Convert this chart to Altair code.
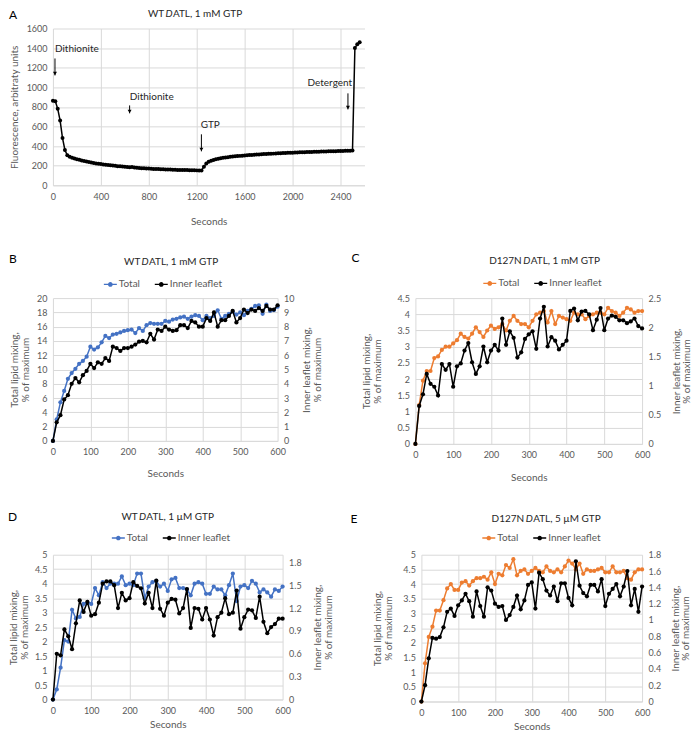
import altair as alt
import pandas as pd

FONT = "Lato"
GRAY = "#595959"
GRID = "#D9D9D9"
BLUE = "#4472C4"
ORANGE = "#ED7D31"
BLACK = "#000000"
TXT = "#262626"

# ---------------- Panel A data ----------------
A_fluor = [862, 858, 780, 660, 482, 360, 306, 291, 282, 273, 266, 260, 254, 247, 243, 238,
           233, 228, 223, 220, 216, 213, 210, 207, 205, 201, 198, 195, 193, 191, 189, 187,
           185, 186, 181, 178, 176, 174, 173, 171, 170, 169, 167, 166, 165, 164, 163, 161,
           160, 160, 159, 158, 157, 157, 156, 155, 155, 154, 153, 153, 152, 151, 150, 190,
           222, 240, 251, 259, 265, 271, 276, 280, 283, 287, 290, 293, 296, 298, 300, 302,
           305, 307, 308, 310, 312, 313, 315, 316, 318, 319, 321, 322, 323, 325, 326, 327,
           329, 330, 331, 332, 333, 334, 335, 336, 337, 338, 339, 340, 340, 341, 342, 343,
           344, 344, 345, 346, 347, 348, 348, 349, 350, 351, 352, 352, 353, 354, 1400, 1440, 1460]
A_time = [20 * i for i in range(len(A_fluor))]
A_xticks = [0, 400, 800, 1200, 1600, 2000, 2400]
A_yticks = [0, 200, 400, 600, 800, 1000, 1200, 1400, 1600]

A_ann_label = ["Dithionite", "Dithionite", "GTP", "Detergent"]
A_ann_t = [17, 640, 1239, 2462]
A_ann_top = [1294, 815, 520, 938]
A_ann_tip = [1121, 734, 346, 774]
A_ann_text_t = [17, 642, 1233, 2125]
A_ann_text_y = [1386, 897, 611, 1040]

# ---------------- Panels B-E data ----------------
T10 = list(range(0, 601, 10))
X600 = [0, 100, 200, 300, 400, 500, 600]

B_total = [0, 3.0, 5.4, 7.0, 8.7, 9.5, 10.1, 10.8, 11.2, 11.8, 13.2, 12.8, 13.1, 13.8, 14.7, 14.4,
           14.9, 15.0, 15.2, 15.4, 15.5, 15.6, 15.1, 15.8, 15.4, 16.2, 16.5, 16.4, 16.4, 16.4, 16.8,
           16.7, 17.0, 17.1, 17.3, 17.4, 17.1, 17.4, 17.6, 17.5, 16.9, 17.5, 17.2, 17.5, 18.3, 17.1,
           17.5, 17.8, 18.1, 17.7, 18.0, 17.6, 18.2, 18.5, 18.9, 19.0, 17.8, 19.1, 18.2, 18.3, 18.8]
B_inner = [0, 1.3, 1.8, 2.9, 3.2, 4.0, 4.4, 4.1, 4.6, 4.9, 5.4, 5.1, 5.5, 5.4, 5.8, 5.6,
           6.6, 6.5, 6.3, 6.5, 6.5, 6.6, 6.75, 6.95, 7.0, 6.9, 7.5, 7.1, 7.8, 7.7, 8.0,
           7.8, 7.7, 7.75, 8.1, 8.1, 7.9, 8.4, 8.3, 8.0, 8.0, 8.6, 8.4, 9.0, 8.0, 8.45,
           8.45, 8.75, 9.1, 8.3, 8.6, 9.2, 8.95, 9.2, 9.1, 9.3, 9.1, 9.45, 9.2, 9.2, 9.5]

C_total = [0, 1.2, 1.95, 2.25, 2.25, 2.65, 2.7, 2.9, 3.0, 3.0, 3.1, 3.2, 3.4, 3.3, 3.25, 3.4,
           3.6, 3.45, 3.3, 3.5, 3.65, 3.55, 3.6, 3.7, 3.5, 3.8, 3.95, 3.8, 3.7, 3.7, 3.6,
           3.8, 4.0, 4.05, 4.1, 3.75, 4.1, 3.7, 3.95, 3.9, 3.85, 3.8, 4.05, 4.0, 4.0, 3.85,
           3.95, 4.0, 4.05, 4.05, 4.0, 4.2, 4.1, 4.05, 3.95, 4.05, 4.2, 4.15, 4.05, 4.1, 4.1]
C_inner = [0, 0.65, 0.85, 1.2, 1.03, 0.98, 0.83, 1.37, 1.27, 1.37, 0.98, 1.33, 1.38, 1.6, 1.73, 1.4,
           1.2, 1.33, 1.67, 1.4, 1.6, 1.7, 1.6, 2.15, 1.7, 1.93, 1.82, 1.48, 1.57, 1.8, 1.88,
           1.93, 1.63, 2.15, 2.35, 1.67, 1.83, 1.77, 1.62, 1.7, 1.77, 2.28, 2.32, 2.12, 2.27, 2.28,
           2.22, 1.95, 2.13, 2.33, 1.95, 2.15, 2.2, 2.18, 2.12, 2.12, 2.07, 2.1, 2.15, 2.02, 1.98]

D_total = [0, 0.35, 1.1, 2.05, 2.0, 3.1, 2.8, 2.85, 3.3, 3.35, 3.3, 3.85, 3.6, 4.05, 3.85, 4.0,
           4.0, 4.0, 4.25, 3.95, 4.0, 3.95, 4.35, 4.35, 3.5, 3.9, 4.05, 4.1, 3.9, 4.0, 3.75,
           4.15, 4.2, 3.85, 3.85, 3.8, 3.6, 4.0, 4.05, 4.0, 3.65, 3.65, 3.9, 3.8, 3.8, 3.6,
           3.95, 4.35, 3.4, 3.9, 3.95, 3.85, 4.1, 4.0, 3.7, 3.8, 3.7, 3.55, 3.8, 3.75, 3.9]
D_inner = [0, 0.6, 0.58, 0.92, 0.83, 0.66, 1.0, 1.3, 1.15, 1.28, 1.1, 1.12, 1.27, 1.52, 1.55, 1.55,
           1.5, 1.2, 1.4, 1.3, 1.33, 1.54, 1.49, 1.46, 1.26, 1.4, 1.2, 1.56, 1.19, 1.1, 1.27,
           1.32, 1.31, 1.13, 1.2, 1.45, 0.94, 1.2, 1.19, 1.05, 1.2, 1.05, 0.84, 1.08, 1.14, 1.33,
           1.12, 1.14, 1.43, 0.93, 1.08, 1.18, 1.17, 1.07, 1.35, 1.02, 0.87, 0.95, 0.99, 1.06, 1.06]

E_total = [0, 1.3, 2.2, 2.55, 3.1, 3.1, 3.45, 3.85, 4.0, 3.8, 3.8, 4.05, 4.1, 3.95, 4.1, 4.2,
           4.2, 4.25, 4.15, 4.4, 4.0, 4.35, 4.3, 4.65, 4.55, 4.85, 4.3, 4.45, 4.5, 4.35, 4.45,
           4.55, 4.45, 4.4, 4.6, 4.45, 4.4, 4.5, 4.4, 4.6, 4.8, 4.7, 4.5, 4.7, 4.35, 4.5,
           4.45, 4.45, 4.5, 4.55, 4.4, 4.4, 4.6, 4.4, 4.4, 4.45, 4.2, 4.15, 4.4, 4.5, 4.5]
E_inner = [0, 0.2, 0.53, 0.78, 0.77, 0.79, 0.91, 1.1, 1.14, 1.05, 1.18, 1.24, 1.32, 1.23, 1.04, 1.35,
           1.17, 1.04, 1.4, 1.36, 1.2, 1.16, 1.17, 1.0, 1.06, 1.16, 1.3, 1.13, 1.24, 1.43, 1.46,
           1.14, 1.58, 1.5, 1.36, 1.3, 1.41, 1.23, 1.45, 1.45, 1.27, 1.18, 1.72, 1.42, 1.33, 1.29,
           1.43, 1.43, 1.35, 1.5, 1.17, 1.32, 1.38, 1.44, 1.29, 1.41, 1.6, 1.18, 1.38, 1.1, 1.41]

SERIES = ["Total", "Inner leaflet"]

ONE = pd.DataFrame({"k": [0]})

CW = {" ": 0.19, "W": 0.96, "T": 0.6, "D": 0.74, "A": 0.68, "L": 0.51, ",": 0.23, "m": 0.86,
      "M": 0.89, "G": 0.72, "P": 0.62, "N": 0.75, "\u00b5": 0.58}


def tw(s, size=10):
    return sum(CW.get(c, 0.58) for c in s) * size


def frame(x1, x2, y1, y2):
    return alt.Chart(ONE).mark_rect(fill="#ffffff", opacity=0).encode(
        x=alt.value(x1), x2=alt.value(x2), y=alt.value(y1), y2=alt.value(y2))


def text_at(txt, x, y, size=10, align="left", baseline="middle", style="normal", color=TXT):
    return alt.Chart(ONE).mark_text(align=align, baseline=baseline, fontSize=size, font=FONT,
                                    fontStyle=style, color=color).encode(
        x=alt.value(x), y=alt.value(y), text=alt.value(txt))


def title_layers(cx, cy, prefix, suffix, size=10):
    wp, wd, ws = tw(prefix, size), tw("D", size), tw(suffix, size)
    left = cx - (wp + wd + ws) / 2
    return [text_at(prefix, left, cy, size),
            text_at("D", left + wp, cy, size, style="italic"),
            text_at(suffix, left + wp + wd, cy, size)]


# ---------------- Panel A ----------------
def panel_a():
    W, H = 312, 157
    df = pd.DataFrame({"t": A_time, "v": A_fluor})
    ann = pd.DataFrame({"label": A_ann_label, "t": A_ann_t, "v": A_ann_top, "v2": A_ann_tip,
                        "tt": A_ann_text_t, "ty": A_ann_text_y})
    xs = alt.Scale(domain=[0, 2600], nice=False)
    ys = alt.Scale(domain=[0, 1600], nice=False)
    xax = alt.Axis(values=A_xticks, grid=True, domain=True, title="Seconds", titleX=W / 2,
                   titleY=36, titleBaseline="middle", labelPadding=7, format="~r")
    yax = alt.Axis(values=A_yticks, grid=True, domain=False, title="Fluorescence, arbitraty units",
                   titleX=-33, titleY=H / 2, titleAngle=270, titleAlign="center",
                   titleBaseline="bottom", labelPadding=6, format="~r")
    x = alt.X("t:Q", scale=xs, axis=xax)
    y = alt.Y("v:Q", scale=ys, axis=yax)
    line = alt.Chart(df).mark_line(color=BLACK, strokeWidth=1.5).encode(x=x, y=y)
    pts = alt.Chart(df).mark_circle(color=BLACK, size=16, opacity=1).encode(x=x, y=y)
    rules = alt.Chart(ann).mark_rule(color=BLACK, strokeWidth=1).encode(
        x=x, y=y, y2="v2:Q")
    heads = alt.Chart(ann).mark_point(shape="triangle-down", filled=True, size=16, color=BLACK,
                                      opacity=1, yOffset=-2).encode(
        x=x, y=alt.Y("v2:Q", scale=ys, axis=yax))
    labels = alt.Chart(ann).mark_text(align="left", baseline="middle", fontSize=10, font=FONT,
                                      color=TXT).encode(
        x=alt.X("tt:Q", scale=xs, axis=xax), y=alt.Y("ty:Q", scale=ys, axis=yax), text="label:N")
    layers = [frame(-44, 640, -19, 213), line, pts, rules, heads, labels,
              text_at("A", -44, -19, 12, baseline="top", color=BLACK)]
    layers += title_layers(142, -15, "WT ", "ATL, 1 mM GTP")
    return alt.layer(*layers).properties(width=W, height=H)


LEG_PATH = ("M-1,-0.1L1,-0.1L1,0.1L-1,0.1Z "
            "M-0.36,0A0.36,0.36,0,1,1,0.36,0A0.36,0.36,0,1,1,-0.36,0Z")


def mix_panel(c):
    W, H = c["w"], c["h"]
    dft = pd.DataFrame({"t": T10, "v": c["total"], "series": SERIES[0]})
    dfi = pd.DataFrame({"t": T10, "v": c["inner"], "series": SERIES[1]})
    legend = alt.Legend(orient="none", legendX=c["legx"], legendY=c["legy"], direction="horizontal",
                        title=None, symbolType=LEG_PATH, symbolSize=169, symbolStrokeWidth=0,
                        labelFontSize=10, labelFont=FONT, labelColor=GRAY, columnPadding=14,
                        labelOffset=2, padding=0)
    color = alt.Color("series:N", scale=alt.Scale(domain=SERIES, range=[c["color"], BLACK]),
                      legend=legend)
    x = alt.X("t:Q", scale=alt.Scale(domain=[0, 600], nice=False),
              axis=alt.Axis(values=X600, grid=True, domain=True, title="Seconds", titleX=W / 2,
                            titleY=c["xty"], titleBaseline="middle", labelPadding=7, format="~r"))
    yl = alt.Y("v:Q", scale=alt.Scale(domain=c["ldom"], nice=False),
               axis=alt.Axis(values=c["lvals"], grid=True, domain=False, orient="left",
                             title=["Total lipid mixing,", "% of maximum"], titleX=c["ltx"],
                             titleY=H / 2, titleAngle=270, titleAlign="center",
                             titleBaseline="bottom", titleLineHeight=11, labelPadding=6,
                             format="~r"))
    yr = alt.Y("v:Q", scale=alt.Scale(domain=c["rdom"], nice=False),
               axis=alt.Axis(values=c["rvals"], grid=False, domain=False, orient="right",
                             title=["Inner leaflet mixing,", "% of maximum"], titleX=c["rtx"],
                             titleY=H / 2, titleAngle=270, titleAlign="center",
                             titleBaseline="bottom", titleLineHeight=11, labelPadding=6,
                             format="~r"))
    tp = alt.Chart(dft).mark_circle(size=18, opacity=1).encode(x=x, y=yl, color=color)
    tl = alt.Chart(dft).mark_line(strokeWidth=1.5).encode(x=x, y=yl, color=color)
    ip = alt.Chart(dfi).mark_circle(size=18, opacity=1).encode(x=x, y=yr, color=color)
    il = alt.Chart(dfi).mark_line(strokeWidth=1.5).encode(x=x, y=yr, color=color)
    left = alt.layer(tp, tl)
    right = alt.layer(ip, il)
    fx1, fx2, fy1, fy2 = c["frame"]
    layers = [frame(fx1, fx2, fy1, fy2), left, right,
              text_at(c["letter"], c["lx"], c["ly"], 12, color=BLACK)]
    layers += title_layers(c["tx"], c["ty"], c["prefix"], c["suffix"])
    return alt.layer(*layers).resolve_scale(y="independent").properties(width=W, height=H)


B = mix_panel(dict(w=225, h=143, total=B_total, inner=B_inner, color=BLUE,
                   ldom=[0, 20], lvals=[0, 2, 4, 6, 8, 10, 12, 14, 16, 18, 20],
                   rdom=[0, 10], rvals=[0, 1, 2, 3, 4, 5, 6, 7, 8, 9, 10],
                   frame=(-44, 298, -56, 194), letter="B", lx=-44, ly=-39,
                   prefix="WT ", suffix="ATL, 1 mM GTP", tx=118, ty=-36,
                   legx=51, legy=-20.5, ltx=-33, rtx=34, xty=33))
C = mix_panel(dict(w=227, h=146, total=C_total, inner=C_inner, color=ORANGE,
                   ldom=[0, 4.5], lvals=[0, 0.5, 1, 1.5, 2, 2.5, 3, 3.5, 4, 4.5],
                   rdom=[0, 2.5], rvals=[0, 0.5, 1, 1.5, 2, 2.5],
                   frame=(-65, 277, -57, 193), letter="C", lx=-64, ly=-40,
                   prefix="D127N ", suffix="ATL, 1 mM GTP", tx=129, ty=-37,
                   legx=68, legy=-21.5, ltx=-44, rtx=39, xty=34))
D = mix_panel(dict(w=230, h=145, total=D_total, inner=D_inner, color=BLUE,
                   ldom=[0, 5], lvals=[0, 0.5, 1, 1.5, 2, 2.5, 3, 3.5, 4, 4.5, 5],
                   rdom=[0, 1.9], rvals=[0, 0.3, 0.6, 0.9, 1.2, 1.5, 1.8],
                   frame=(-45, 297, -63, 176), letter="D", lx=-45, ly=-38,
                   prefix="WT ", suffix="ATL, 1 \u00b5M GTP", tx=114, ty=-38,
                   legx=59, legy=-23.5, ltx=-34, rtx=40, xty=25.5))
E = mix_panel(dict(w=221, h=147, total=E_total, inner=E_inner, color=ORANGE,
                   ldom=[0, 5], lvals=[0, 0.5, 1, 1.5, 2, 2.5, 3, 3.5, 4, 4.5, 5],
                   rdom=[0, 1.8], rvals=[0, 0.2, 0.4, 0.6, 0.8, 1, 1.2, 1.4, 1.6, 1.8],
                   frame=(-72, 270, -61, 178), letter="E", lx=-71, ly=-36,
                   prefix="D127N ", suffix="ATL, 5 \u00b5M GTP", tx=124, ty=-36,
                   legx=61, legy=-23.5, ltx=-39, rtx=38, xty=25.5))

row2 = alt.hconcat(B, C, spacing=0).resolve_scale(color="independent")
row3 = alt.hconcat(D, E, spacing=0).resolve_scale(color="independent")

chart = alt.vconcat(panel_a(), row2, row3, spacing=0).resolve_scale(
    color="independent").properties(padding=0, background="white").configure_view(
    strokeWidth=0).configure_axis(
    labelFont=FONT, titleFont=FONT, labelFontSize=9, titleFontSize=10, labelColor=GRAY,
    titleColor=GRAY, titleFontWeight="normal", gridColor=GRID, gridWidth=1, domainColor=GRID,
    ticks=False, tickSize=0, labelFlush=False, labelOverlap=False).configure_text(font=FONT)

chart.save("out.html", embed_options={"renderer": "svg", "actions": False})
